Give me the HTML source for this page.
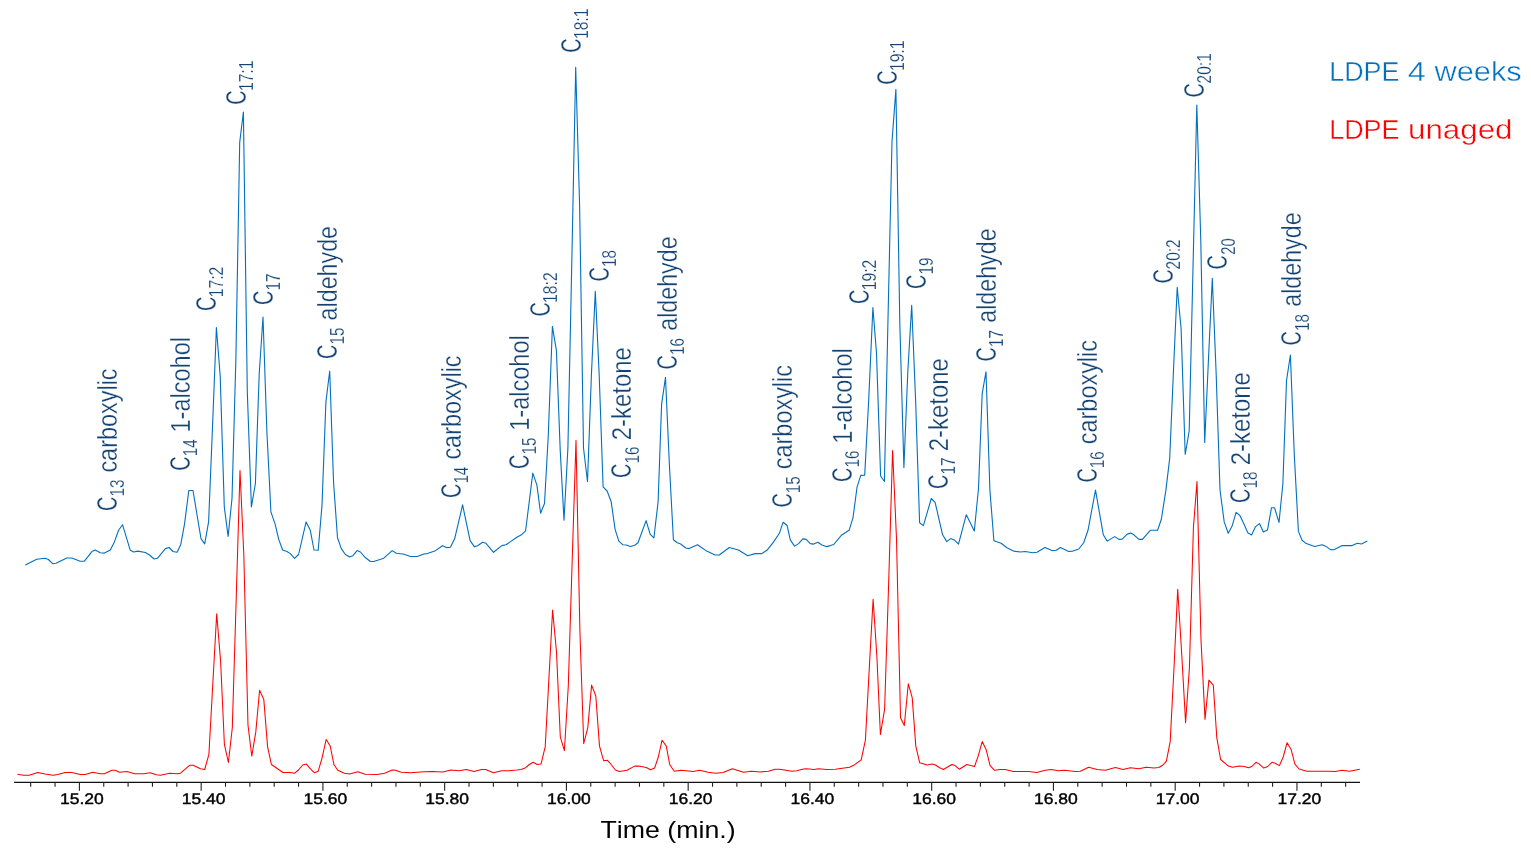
<!DOCTYPE html>
<html lang="en">
<head>
<meta charset="utf-8">
<title>LDPE chromatogram</title>
<style>
html,body{margin:0;padding:0;background:#fff;}
body{width:1531px;height:850px;overflow:hidden;}
svg{display:block;}
text{font-family:"Liberation Sans",sans-serif;font-kerning:none;}
.lm{font-size:28.8px;fill:#134375;stroke:#fff;stroke-width:0.3px;paint-order:fill stroke;}
.lr{font-size:27.6px;fill:#134375;stroke:#fff;stroke-width:0.3px;paint-order:fill stroke;}
.ls{font-size:19.3px;fill:#134375;stroke:#fff;stroke-width:0.2px;paint-order:fill stroke;}
.tk{font-size:15.3px;fill:#000;stroke:#000;stroke-width:0.4px;text-rendering:geometricPrecision;}
.ttl{font-size:24.7px;fill:#000;}
.lg{font-size:27.2px;stroke:#fff;stroke-width:0.4px;paint-order:fill stroke;}
</style>
</head>
<body>
<svg width="1531" height="850" viewBox="0 0 1531 850">
<rect width="1531" height="850" fill="#fff"/>

<polyline fill="none" stroke="#0070c0" stroke-width="1.1" stroke-linejoin="round" stroke-linecap="butt" points="25.4,565 36.7,559.3 45.1,558.3 48.4,559.5 52.6,563.7 56,563.2 66.8,558 71.8,558 80.2,561.2 84.4,561.2 91.9,551.6 95.2,550 100.2,552.8 104.4,553.1 110.3,550 114.4,541.9 118.6,530.2 122.5,524.7 130.3,550.3 133.7,552 137.8,551.1 145.4,552.5 149.5,555 154.1,559 157.4,558.3 165.4,548.6 169.1,547.5 172.9,551.5 177.1,552.3 180.8,544.4 184.6,523.6 188.8,490.5 193,490.5 196.8,513.5 201,538.6 204.7,543.9 208.6,521.9 212.6,425 216.4,327.6 220.2,376 224.3,507 228.1,536.4 232,498.5 235.9,358 239.7,142.4 243.4,112 247.3,392 251.4,506.9 255.4,483.5 259.2,374 263,317 266.9,432 270.9,511.9 275.2,524.4 278.8,539.6 282.7,550 286.9,551.5 290.3,553.6 294.6,558.3 298.6,554.5 306.1,521.9 310.3,530.3 314,550 318.2,550.3 322,505.2 325.9,402 329.7,371 333.6,483 337.5,537.8 341.3,548.6 345.4,554.5 349.6,557 352.9,555.7 357.1,550.6 360.4,552 365.5,557.8 370.5,561.5 373.8,561.5 383.8,558.2 392.2,550.6 396.4,553.3 403.1,554 410.6,556.5 417.3,556.5 423.9,554 427.3,553.6 434.8,551.1 442.4,545.8 446.6,547.6 450.4,547.3 454.7,538.6 462.6,504.9 470.1,540.6 474.3,546.6 477.6,545.8 482.6,542.3 486,543.3 493.5,552.3 501.8,545.6 506,544.8 510.2,541.9 516.9,537.3 521.9,534.4 525.6,530.8 532.8,473.1 536.9,485.1 540.6,513.2 544.5,503.5 548.2,437 552.4,326.4 556.4,350.6 560.2,450 564,520.2 567.9,448 571.8,262 575.7,67.2 579.6,205 583.5,448 587.5,481.8 591.4,375 595.3,291.4 599.2,375 603.1,486.8 607.1,491 611.2,501.8 615.1,529.4 618.8,541.1 623,544.8 626.3,545 630.5,546.5 634.7,545.3 638,542.8 646.1,520.6 650.2,534.4 653.9,537.8 658.1,501.8 661.6,404.2 665.5,377.4 669.4,465 673.4,539.8 677.3,542.8 680.7,544 685.7,548 689.2,548.6 697.5,544.8 706.7,551.1 715.1,555 719.3,555 729.3,547.5 738.5,550 747.7,555.7 755.2,553.6 761.9,553.6 766.9,550.3 773.6,541.9 779.4,533.3 783.1,522.2 787,525.2 790.3,539.9 794.5,546.1 798.6,543.6 802.8,538.9 806.2,539.4 810.3,543.6 813.7,544.1 817.9,542.3 822,545 826.2,546.6 830.4,545.6 833.7,544.5 841.3,535.3 849.1,530.3 853,517.7 857.1,486.8 860.8,475.4 864.7,475.1 868.7,400 872.9,307.5 876.5,353.3 880.6,476 884.4,481.5 888.2,310 892,141.5 895.9,89.4 899.8,323 903.9,467.6 907.8,372 911.7,305.3 915.6,400 919.6,522.7 923.4,525.6 931.3,498.5 935.1,502.3 942.6,534.8 946.8,541.6 950.6,538.6 954.3,539.9 958.5,544.1 966.3,514.7 974.3,531.1 978.5,488.5 982.2,393.6 986,371.7 989.9,490 993.9,540.8 1001.1,543.3 1006.9,547.8 1013.6,551.1 1020.3,552 1025.3,551.5 1032.8,552.8 1037,552.3 1045,547.5 1052,550.6 1056.2,550.3 1060.4,547.5 1068.8,551.5 1072.9,551.1 1078.8,549 1083.8,542.5 1088,530.3 1095.5,490.1 1103.3,534.8 1107.2,541.1 1114.7,536.6 1118.9,539.4 1122.2,539.1 1127.2,534.1 1130.6,533.1 1133.9,534.8 1138.9,539.4 1142.4,539.4 1150.3,530.3 1157.6,530.3 1161.4,519 1165.9,490.1 1169.7,458.4 1173.5,370 1177.2,287.4 1181.1,328.5 1185.2,454.3 1189.2,431 1193,268 1196.8,105 1200.8,241 1204.7,442.5 1208.8,352 1212.3,278.4 1216.1,372 1220,490 1224.2,521.9 1228.2,533.3 1231.9,526.6 1236.1,512.4 1239.9,515.5 1243.6,523.2 1247.8,532.8 1251.6,534.9 1255.3,526.9 1259.5,523.6 1263.3,531.9 1267.5,529.9 1271.5,507.7 1274.5,507.7 1279,522.4 1282.9,483.5 1286.5,380.7 1290.4,355 1294.3,455 1298.4,531.4 1302.1,540.3 1306.3,543.6 1314.6,546.5 1322.2,544.8 1326.3,546.6 1330.5,549.6 1333.9,549.8 1342.2,545.6 1352.2,545.6 1357.3,543.3 1361.4,544 1367.3,541.1"/>
<polyline fill="none" stroke="#ff0000" stroke-width="1.05" stroke-linejoin="round" stroke-linecap="butt" points="17.5,774.2 23.4,775.3 29.2,775.3 37.6,772.5 45.1,774 53.1,775.3 57.6,774.5 65.1,772.5 71.8,772.5 80.2,774.5 85.2,774.5 92.7,772.3 100.2,773.7 104.4,773.7 111.9,770.3 115.3,770.3 119.5,772.3 127,771.5 134.5,773.7 143.7,773.7 150.4,772.8 156.2,774.8 160.4,775.3 169.6,773.3 177.1,773.7 180.5,773.2 189.6,765.3 193,765.3 200.5,768.7 204.7,769.5 208.9,754.4 212.8,684 216.7,613.8 220.6,661 224.4,744.4 228.4,762.5 232.3,727.7 236.2,599 240,470.6 243.8,554.3 248,725.2 251.8,756.1 255.8,731.9 259.6,690.2 263.8,699.5 267.6,746.9 271.4,764.5 275.1,767 282.9,772.5 290.1,772.5 294.3,773.3 298.5,770 302.7,765 306.5,764.1 310.2,768.7 314.4,772.8 318.2,771.2 321.9,758.6 326.2,739.4 330.2,746.1 333.9,764.5 337.8,770.3 344.4,773.3 349.5,774 357.8,771.7 365.3,774.2 377,774.5 384.6,773.2 392.1,770 395.4,770.3 401.3,772.3 410.5,772.8 423.8,771.7 432.2,771.5 443,772 450.6,770 458.9,770.8 466.4,769.5 474,771.5 481.5,769.5 485.7,769.5 493.4,772.8 501.7,770.7 509.2,770.7 516.8,770 520.9,769.5 525.1,768.1 529.3,764.5 533.1,762.3 537.1,764.5 541,764.1 545.2,746.9 549,677 552.6,610 556.5,652 560.3,736.9 564.4,750.6 568.3,686 572.2,560 576,440.4 579.9,631 583.7,743.6 587.8,727.7 591.6,685.1 595.8,696 599.5,746.1 603.7,760.8 607.5,760.3 611.2,764.5 615.3,770 619.5,771.5 627,770.3 634.6,766.1 638.7,766.1 646.3,767.5 650.4,769.8 654.6,768.1 658.3,757 662.1,740.2 666.3,746.1 669.7,764.5 674.2,771.2 681.4,770.3 693.1,771.5 699.7,770.3 708.1,772.3 715.6,773.3 723.1,772.5 732.4,768.7 743.4,772.3 751.7,771.2 760.1,772 768.4,771.2 775.1,769.2 779.3,769.2 784.3,770 791.8,771.2 796.8,770.8 803.5,769 806.9,768.7 813.6,769.5 818.6,768.7 826.9,769.5 835.3,769.2 849.5,767.3 853.7,765.3 861.2,759.8 865.4,740.2 869.3,668 873.1,599.2 876.8,655 880.4,734.4 884.6,709.3 888.6,585 892.6,450.6 896.5,538.5 900.5,717.7 904.3,725.5 908.3,683.8 912.2,697.6 915.8,746.1 919.7,762.8 927.2,765 932.2,764.1 935.5,765 939.7,767.8 943.4,769.5 951.8,764.5 955.1,765.6 959.3,769.2 966.8,764.5 974.5,766.5 978.4,755.3 982.2,741.6 986.2,749.8 990.1,765.6 994.6,770.3 1000.1,769.5 1005.1,769.5 1013.4,771.5 1028.5,771.5 1036.8,772.5 1045.2,770.3 1051,769.5 1058.6,770.8 1064.4,770.3 1075.3,771.5 1080.3,771.2 1088.6,767.3 1097,769.5 1105.4,770.3 1115.4,767.5 1122.9,769.5 1130.4,767.8 1138.8,768.7 1146.3,767.3 1153.8,768.1 1158.8,767.5 1163,765 1166.4,761.1 1170.2,741.6 1174,668 1177.7,589.3 1181.6,652 1185.6,722.7 1189.4,668 1193.4,527.7 1197,481.5 1201,640 1205,719.4 1208.9,680.1 1213.3,685.1 1216.8,737.7 1220.6,759.5 1228.4,766.1 1232.6,767.3 1239.3,766.1 1244.3,766.5 1248.5,767.8 1251.8,766.5 1256,762.3 1259.3,764.1 1263.8,768.1 1267.7,766.5 1271.9,762.3 1275.2,763.3 1279.4,765.6 1283.2,757 1287.1,742.7 1291.1,749.4 1294.9,764.1 1299.1,769 1307,771.2 1328.7,771.2 1335.4,771.5 1342,770.3 1349.6,771.2 1359.9,769.2"/>
<g stroke="#111" fill="none">
<line x1="14.1" y1="782.35" x2="1360" y2="782.35" stroke-width="1.25"/>
<path stroke="#222" stroke-width="1.1" d="M30.7 782.35 V786.7 M55.05 782.35 V786.7 M79.4 782.35 V790.8 M103.75 782.35 V786.7 M128.1 782.35 V786.7 M152.45 782.35 V786.7 M176.8 782.35 V786.7 M201.16 782.35 V790.8 M225.51 782.35 V786.7 M249.86 782.35 V786.7 M274.21 782.35 V786.7 M298.56 782.35 V786.7 M322.91 782.35 V790.8 M347.26 782.35 V786.7 M371.61 782.35 V786.7 M395.96 782.35 V786.7 M420.31 782.35 V786.7 M444.66 782.35 V790.8 M469.02 782.35 V786.7 M493.37 782.35 V786.7 M517.72 782.35 V786.7 M542.07 782.35 V786.7 M566.42 782.35 V790.8 M590.77 782.35 V786.7 M615.12 782.35 V786.7 M639.47 782.35 V786.7 M663.82 782.35 V786.7 M688.17 782.35 V790.8 M712.53 782.35 V786.7 M736.88 782.35 V786.7 M761.23 782.35 V786.7 M785.58 782.35 V786.7 M809.93 782.35 V790.8 M834.28 782.35 V786.7 M858.63 782.35 V786.7 M882.98 782.35 V786.7 M907.33 782.35 V786.7 M931.69 782.35 V790.8 M956.04 782.35 V786.7 M980.39 782.35 V786.7 M1004.74 782.35 V786.7 M1029.09 782.35 V786.7 M1053.44 782.35 V790.8 M1077.79 782.35 V786.7 M1102.14 782.35 V786.7 M1126.49 782.35 V786.7 M1150.84 782.35 V786.7 M1175.19 782.35 V790.8 M1199.55 782.35 V786.7 M1223.9 782.35 V786.7 M1248.25 782.35 V786.7 M1272.6 782.35 V786.7 M1296.95 782.35 V790.8 M1321.3 782.35 V786.7 M1345.65 782.35 V786.7"/>
</g>
<text class="tk" transform="translate(59.9 804) scale(1.145 1)">15.20</text>
<text class="tk" transform="translate(181.66 804) scale(1.145 1)">15.40</text>
<text class="tk" transform="translate(303.41 804) scale(1.145 1)">15.60</text>
<text class="tk" transform="translate(425.16 804) scale(1.145 1)">15.80</text>
<text class="tk" transform="translate(546.92 804) scale(1.145 1)">16.00</text>
<text class="tk" transform="translate(668.67 804) scale(1.145 1)">16.20</text>
<text class="tk" transform="translate(790.43 804) scale(1.145 1)">16.40</text>
<text class="tk" transform="translate(912.19 804) scale(1.145 1)">16.60</text>
<text class="tk" transform="translate(1033.94 804) scale(1.145 1)">16.80</text>
<text class="tk" transform="translate(1155.69 804) scale(1.145 1)">17.00</text>
<text class="tk" transform="translate(1277.45 804) scale(1.145 1)">17.20</text>
<text class="ttl" transform="translate(600.4 838) scale(1.0833 1)">Time (min.)</text>
<g class="lg" fill="#0070c0">
<text transform="translate(1329.19 81.1) scale(0.9903 1)">LDPE</text>
<text transform="translate(1407.85 81.1) scale(1.1965 1)">4</text>
<text transform="translate(1434.45 81.1) scale(1.1332 1)">weeks</text>
</g>
<g class="lg" fill="#ff0000">
<text transform="translate(1329.19 139.1) scale(0.9903 1)">LDPE</text>
<text transform="translate(1408.07 139.1) scale(1.1508 1)">unaged</text>
</g>
<g transform="translate(117.1 510) rotate(-90)">
<text class="lm" transform="translate(-1.01 0) scale(0.6908 1)">C</text>
<text class="ls" transform="translate(13.43 7.1) scale(0.7938 1)">13</text>
<text class="lr" transform="translate(37.4 0) scale(0.8493 1)">carboxylic</text>
</g>
<g transform="translate(189.6 469.7) rotate(-90)">
<text class="lm" transform="translate(-1.01 0) scale(0.6908 1)">C</text>
<text class="ls" transform="translate(13.45 7.1) scale(0.7822 1)">14</text>
<text class="lr" transform="translate(37.21 0) scale(0.8533 1)">1-alcohol</text>
</g>
<g transform="translate(216 310) rotate(-90)">
<text class="lm" transform="translate(-1.01 0) scale(0.6908 1)">C</text>
<text class="ls" transform="translate(12.7 7.1) scale(0.8143 1)">17:2</text>
</g>
<g transform="translate(246.2 103.8) rotate(-90)">
<text class="lm" transform="translate(-1.01 0) scale(0.6908 1)">C</text>
<text class="ls" transform="translate(12.7 7.1) scale(0.8136 1)">17:1</text>
</g>
<g transform="translate(273 304) rotate(-90)">
<text class="lm" transform="translate(-1.01 0) scale(0.6908 1)">C</text>
<text class="ls" transform="translate(13.43 7.1) scale(0.7989 1)">17</text>
</g>
<g transform="translate(337 358) rotate(-90)">
<text class="lm" transform="translate(-1.01 0) scale(0.6908 1)">C</text>
<text class="ls" transform="translate(13.44 7.1) scale(0.7922 1)">15</text>
<text class="lr" transform="translate(37.61 0) scale(0.8428 1)">aldehyde</text>
</g>
<g transform="translate(461 497) rotate(-90)">
<text class="lm" transform="translate(-1.01 0) scale(0.6908 1)">C</text>
<text class="ls" transform="translate(13.45 7.1) scale(0.7822 1)">14</text>
<text class="lr" transform="translate(37.4 0) scale(0.8493 1)">carboxylic</text>
</g>
<g transform="translate(529 468) rotate(-90)">
<text class="lm" transform="translate(-1.01 0) scale(0.6908 1)">C</text>
<text class="ls" transform="translate(13.44 7.1) scale(0.7922 1)">15</text>
<text class="lr" transform="translate(37.21 0) scale(0.8533 1)">1-alcohol</text>
</g>
<g transform="translate(549.6 315.6) rotate(-90)">
<text class="lm" transform="translate(-1.01 0) scale(0.6908 1)">C</text>
<text class="ls" transform="translate(12.7 7.1) scale(0.8143 1)">18:2</text>
</g>
<g transform="translate(581.2 51.8) rotate(-90)">
<text class="lm" transform="translate(-1.01 0) scale(0.6908 1)">C</text>
<text class="ls" transform="translate(12.7 7.1) scale(0.8136 1)">18:1</text>
</g>
<g transform="translate(609 280.4) rotate(-90)">
<text class="lm" transform="translate(-1.01 0) scale(0.6908 1)">C</text>
<text class="ls" transform="translate(13.43 7.1) scale(0.7934 1)">18</text>
</g>
<g transform="translate(631.4 477) rotate(-90)">
<text class="lm" transform="translate(-1.01 0) scale(0.6908 1)">C</text>
<text class="ls" transform="translate(13.43 7.1) scale(0.7938 1)">16</text>
<text class="lr" transform="translate(36.8 0) scale(0.8665 1)">2-ketone</text>
</g>
<g transform="translate(677 368.4) rotate(-90)">
<text class="lm" transform="translate(-1.01 0) scale(0.6908 1)">C</text>
<text class="ls" transform="translate(13.43 7.1) scale(0.7938 1)">16</text>
<text class="lr" transform="translate(37.61 0) scale(0.8428 1)">aldehyde</text>
</g>
<g transform="translate(792.4 506.6) rotate(-90)">
<text class="lm" transform="translate(-1.01 0) scale(0.6908 1)">C</text>
<text class="ls" transform="translate(13.44 7.1) scale(0.7922 1)">15</text>
<text class="lr" transform="translate(37.4 0) scale(0.8493 1)">carboxylic</text>
</g>
<g transform="translate(852 481) rotate(-90)">
<text class="lm" transform="translate(-1.01 0) scale(0.6908 1)">C</text>
<text class="ls" transform="translate(13.43 7.1) scale(0.7938 1)">16</text>
<text class="lr" transform="translate(37.21 0) scale(0.8533 1)">1-alcohol</text>
</g>
<g transform="translate(869 303) rotate(-90)">
<text class="lm" transform="translate(-1.01 0) scale(0.6908 1)">C</text>
<text class="ls" transform="translate(12.7 7.1) scale(0.8143 1)">19:2</text>
</g>
<g transform="translate(897.2 83.8) rotate(-90)">
<text class="lm" transform="translate(-1.01 0) scale(0.6908 1)">C</text>
<text class="ls" transform="translate(12.7 7.1) scale(0.8136 1)">19:1</text>
</g>
<g transform="translate(926 288) rotate(-90)">
<text class="lm" transform="translate(-1.01 0) scale(0.6908 1)">C</text>
<text class="ls" transform="translate(13.43 7.1) scale(0.7965 1)">19</text>
</g>
<g transform="translate(948 488) rotate(-90)">
<text class="lm" transform="translate(-1.01 0) scale(0.6908 1)">C</text>
<text class="ls" transform="translate(13.43 7.1) scale(0.7989 1)">17</text>
<text class="lr" transform="translate(36.8 0) scale(0.8665 1)">2-ketone</text>
</g>
<g transform="translate(995.6 360.4) rotate(-90)">
<text class="lm" transform="translate(-1.01 0) scale(0.6908 1)">C</text>
<text class="ls" transform="translate(13.43 7.1) scale(0.7989 1)">17</text>
<text class="lr" transform="translate(37.61 0) scale(0.8428 1)">aldehyde</text>
</g>
<g transform="translate(1097 481.6) rotate(-90)">
<text class="lm" transform="translate(-1.01 0) scale(0.6908 1)">C</text>
<text class="ls" transform="translate(13.43 7.1) scale(0.7938 1)">16</text>
<text class="lr" transform="translate(37.4 0) scale(0.8493 1)">carboxylic</text>
</g>
<g transform="translate(1173 282.6) rotate(-90)">
<text class="lm" transform="translate(-1.01 0) scale(0.6908 1)">C</text>
<text class="ls" transform="translate(13.12 7.1) scale(0.8029 1)">20:2</text>
</g>
<g transform="translate(1203.5 96.5) rotate(-90)">
<text class="lm" transform="translate(-1.01 0) scale(0.6908 1)">C</text>
<text class="ls" transform="translate(13.12 7.1) scale(0.8022 1)">20:1</text>
</g>
<g transform="translate(1227.4 268.6) rotate(-90)">
<text class="lm" transform="translate(-1.01 0) scale(0.6908 1)">C</text>
<text class="ls" transform="translate(13.85 7.1) scale(0.7699 1)">20</text>
</g>
<g transform="translate(1250 502) rotate(-90)">
<text class="lm" transform="translate(-1.01 0) scale(0.6908 1)">C</text>
<text class="ls" transform="translate(13.43 7.1) scale(0.7934 1)">18</text>
<text class="lr" transform="translate(36.8 0) scale(0.8665 1)">2-ketone</text>
</g>
<g transform="translate(1301.4 344.4) rotate(-90)">
<text class="lm" transform="translate(-1.01 0) scale(0.6908 1)">C</text>
<text class="ls" transform="translate(13.43 7.1) scale(0.7934 1)">18</text>
<text class="lr" transform="translate(37.61 0) scale(0.8428 1)">aldehyde</text>
</g>
</svg>
</body>
</html>
